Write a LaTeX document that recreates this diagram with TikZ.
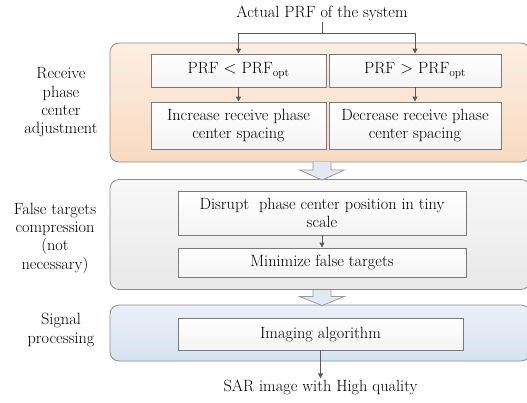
\documentclass[tikz,border=0pt]{standalone}
\usetikzlibrary{arrows.meta}
\definecolor{orTop}{HTML}{FCEEE3}
\definecolor{orBot}{HTML}{F9DAC0}
\definecolor{grTop}{HTML}{F8F8F8}
\definecolor{grBot}{HTML}{E8E8E8}
\definecolor{blTop}{HTML}{EBF0F8}
\definecolor{blBot}{HTML}{D7E3F2}
\definecolor{bigBorder}{HTML}{8C8C8C}
\definecolor{inBorder}{HTML}{7A7A7A}
\definecolor{inBot}{HTML}{F4F4F4}
\definecolor{arrGray}{HTML}{5A5A5A}
\definecolor{hollowFill}{HTML}{E3E8F3}
\definecolor{hollowDraw}{HTML}{9A9A9A}
\begin{document}
\begin{tikzpicture}[x=1pt,y=-1pt,
  font=\fontsize{16.3}{18.3}\selectfont,
  bigbox/.style={draw=bigBorder, line width=0.8pt, rounded corners=9pt, minimum width=420pt, inner sep=0pt},
  inbox/.style={draw=inBorder, line width=0.9pt, top color=white, bottom color=inBot, align=center, inner sep=0pt},
  conn/.style={draw=arrGray, line width=1pt, -{Triangle[length=5pt,width=5pt]}},
  plainline/.style={draw=arrGray, line width=1pt},
  hollow/.style={draw=hollowDraw, fill=hollowFill, line width=0.8pt, line join=miter},
  lbl/.style={align=center, inner sep=0pt}
]
\useasboundingbox (0,0) rectangle (527,402);
\clip (0,0) rectangle (527,402);

% big boxes
\node[bigbox, top color=orTop, bottom color=orBot, minimum height=119pt] (orange) at (320,102.5) {};
\node[bigbox, top color=grTop, bottom color=grBot, minimum height=110pt] (grayb) at (320,234.5) {};
\node[bigbox, top color=blTop, bottom color=blBot, minimum height=56pt] (blue) at (320,333) {};

% hollow arrows
\draw[hollow] (313,162) -- (313,170) -- (299.5,170) -- (322,180) -- (344.5,170) -- (331,170) -- (331,162);
\draw[hollow] (313,290) -- (313,296.5) -- (299.5,296.5) -- (322,305.5) -- (344.5,296.5) -- (331,296.5) -- (331,290);

% title
\node[inner sep=1pt] (title) at (322,13) {Actual PRF of the system};
\coordinate (split) at (322,33);

% inner boxes
\node[inbox, minimum width=175pt, minimum height=33pt] (L1) at (238.5,70.5) {PRF $<$ PRF\textsubscript{opt}};
\node[inbox, minimum width=172pt, minimum height=33pt] (R1) at (415,70.5) {PRF $>$ PRF\textsubscript{opt}};
\node[inbox, minimum width=175pt, minimum height=47pt] (L2) at (238.5,125.5) {Increase receive phase\\center spacing};
\node[inbox, minimum width=172pt, minimum height=47pt] (R2) at (415,125.5) {Decrease receive phase\\center spacing};
\node[inbox, minimum width=288pt, minimum height=44pt] (G1) at (322,213) {Disrupt\ \ phase center position in tiny\\scale};
\node[inbox, minimum width=288pt, minimum height=29pt] (G2) at (322,262.5) {Minimize false targets};
\node[inbox, minimum width=285pt, minimum height=32pt] (B1) at (320.5,334) {Imaging algorithm};

\node[inner sep=1pt] (out) at (320.5,387) {SAR image with High quality};

% left labels
\node[lbl] (lab1) at (61,102.5) {Receive\\phase\\center\\adjustment};
\node[lbl] (lab2) at (55,238) {False targets\\compression\\(not\\necessary)};
\node[lbl] (lab3) at (61,330) {Signal\\processing};

% connectors
\draw[plainline] (title.south) -- (split);
\draw[conn] (split) -| (L1.north);
\draw[conn] (split) -| (R1.north);
\draw[conn] (L1) -- (L2);
\draw[conn] (R1) -- (R2);
\draw[conn] (G1) -- (G2);
\draw[conn] (B1.south) -- (out.north);
\end{tikzpicture}
\end{document}
